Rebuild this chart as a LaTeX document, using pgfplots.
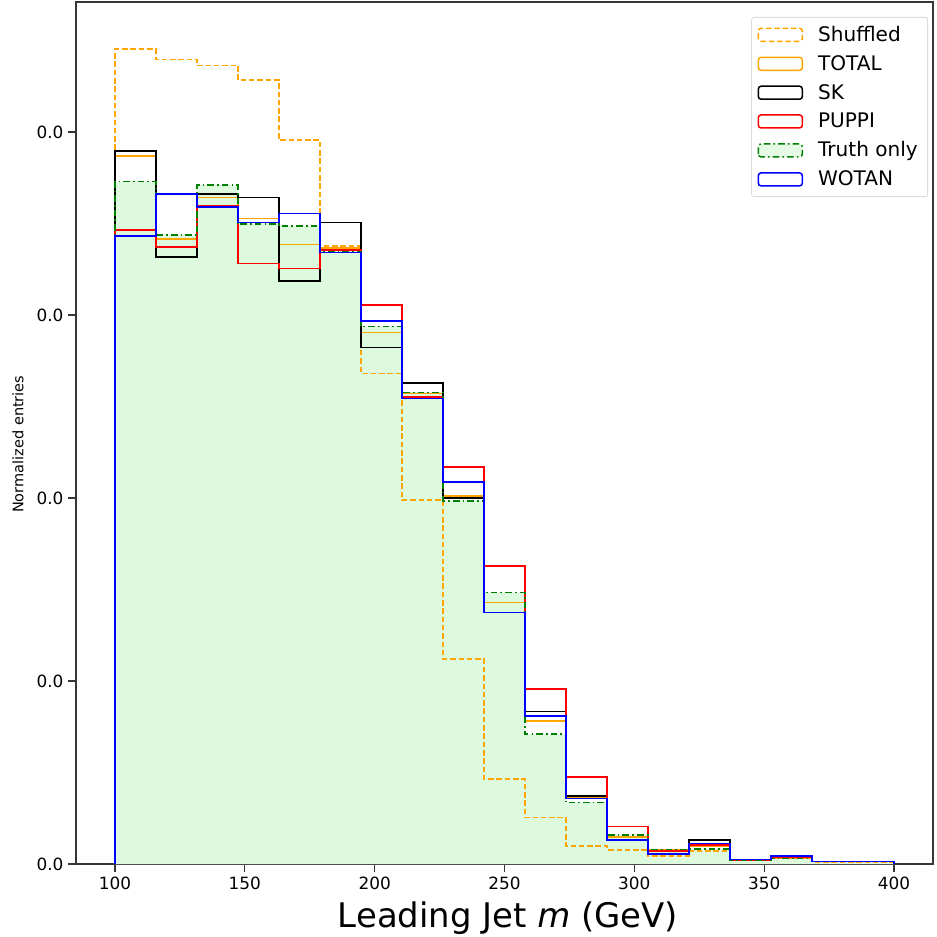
\documentclass[border=0pt]{standalone}
\usepackage{fontspec}
\setmainfont{DejaVu Sans}
\usepackage{pgfplots}
\usepackage{pgfplotstable}
\pgfplotsset{compat=1.18}

\definecolor{mplorange}{RGB}{255,165,0}
\definecolor{mplgreen}{RGB}{0,128,0}
\definecolor{truthfill}{RGB}{222,250,222}
\definecolor{spine}{RGB}{55,55,55}

\pgfplotsset{
    patchlegend/.style={legend image code/.code={\draw[##1] (0in,-0.065in) rectangle (0.44in,0.065in);}},
    filledlegend/.style={legend image code/.code={\draw[##1, fill=truthfill] (0in,-0.065in) rectangle (0.44in,0.065in);}},
}

% left bin edges (first and last rows close the step outline down to zero)
\pgfplotstableread{
e       sh       to       sk       pu       tr       wo
100     0        0        0        0        0        0
100     0.04452  0.03869  0.03896  0.03464  0.03728  0.03432
115.79  0.04397  0.03414  0.03317  0.03372  0.03437  0.03660
131.58  0.04364  0.03641  0.03660  0.03596  0.03709  0.03590
147.37  0.04283  0.03526  0.03641  0.03280  0.03496  0.03504
163.16  0.03955  0.03386  0.03186  0.03255  0.03486  0.03554
178.95  0.03377  0.03366  0.03504  0.03354  0.03346  0.03340
194.74  0.02681  0.02903  0.02821  0.03053  0.02936  0.02967
210.53  0.01989  0.02571  0.02627  0.02552  0.02577  0.02543
226.32  0.01119  0.02011  0.02000  0.02169  0.01984  0.02087
242.11  0.00464  0.01428  0.01373  0.01628  0.01483  0.01373
257.89  0.00253  0.00781  0.00833  0.00955  0.00709  0.00809
273.68  0.00098  0.00362  0.00372  0.00475  0.00335  0.00359
289.47  0.00077  0.00148  0.00135  0.00204  0.00158  0.00130
305.26  0.00044  0.00080  0.00053  0.00071  0.00080  0.00056
321.05  0.00071  0.00095  0.00131  0.00104  0.00082  0.00113
336.84  0.00022  0.00022  0.00025  0.00022  0.00022  0.00025
352.63  0.00033  0.00033  0.00044  0.00038  0.00030  0.00044
368.42  0.00011  0.00014  0.00014  0.00014  0.00014  0.00014
384.21  0.00011  0.00014  0.00014  0.00014  0.00014  0.00014
400     0        0        0        0        0        0
}\histdata

\begin{document}
\begin{tikzpicture}
\begin{axis}[
    name=ax,
    scale only axis,
    width=8.57in, height=8.62in,
    xmin=85, xmax=415, ymin=0, ymax=0.0471,
    xtick={100,150,...,400},
    ytick={0,0.01,0.02,0.03,0.04},
    yticklabels={0.0,0.0,0.0,0.0,0.0},
    scaled y ticks=false,
    xtick pos=bottom, ytick pos=left,
    tick align=outside,
    major tick length=0.077in,
    tick style={spine, line width=0.9pt},
    axis line style={spine, line width=1.1pt},
    tick label style={font=\fontsize{12.2}{14}\selectfont},
    /pgf/number format/assume math mode=true,
    xlabel={Leading Jet \textit{m} (GeV)},
    xlabel style={font=\fontsize{24.5}{29}\selectfont, at={(axis description cs:0.504,-0.0742)}, anchor=base},
    ylabel={Normalized entries},
    ylabel style={font=\fontsize{10.5}{13}\selectfont, at={(axis description cs:-0.0677,0.487)}, anchor=center},
    legend cell align=left,
    patchlegend,
    legend style={at={(0.9942,0.9826)}, anchor=north east,
        draw=black!20, rounded corners=2pt, fill=white, fill opacity=0.8, text opacity=1,
        font=\fontsize{14.5}{17}\selectfont, inner xsep=0.06in, inner ysep=0.075in,
        row sep=6.6pt, column sep=0.11in,
        nodes={inner xsep=0.04in, inner ysep=1pt}},
    every axis plot/.append style={const plot, line width=1.1pt},
]
% truth-only filled area
\addplot[fill=truthfill, draw=none, forget plot] table[x=e, y=tr] {\histdata} \closedcycle;

\addplot[mplorange, dash pattern=on 4pt off 2pt] table[x=e, y=sh] {\histdata};
\addplot[mplorange] table[x=e, y=to] {\histdata};
\addplot[black] table[x=e, y=sk] {\histdata};
\addplot[red] table[x=e, y=pu] {\histdata};
\addplot[mplgreen, dash pattern=on 4.8pt off 2.2pt on 1.2pt off 2.2pt, filledlegend]
    table[x=e, y=tr] {\histdata};
\addplot[blue] table[x=e, y=wo] {\histdata};

\legend{Shuffled, TOTAL, SK, PUPPI, Truth only, WOTAN}
\end{axis}
\pgfresetboundingbox
\path ([xshift=-0.76in, yshift=-0.73in]ax.south west) rectangle ([xshift=0.04in, yshift=0.02in]ax.north east);
\end{tikzpicture}
\end{document}
